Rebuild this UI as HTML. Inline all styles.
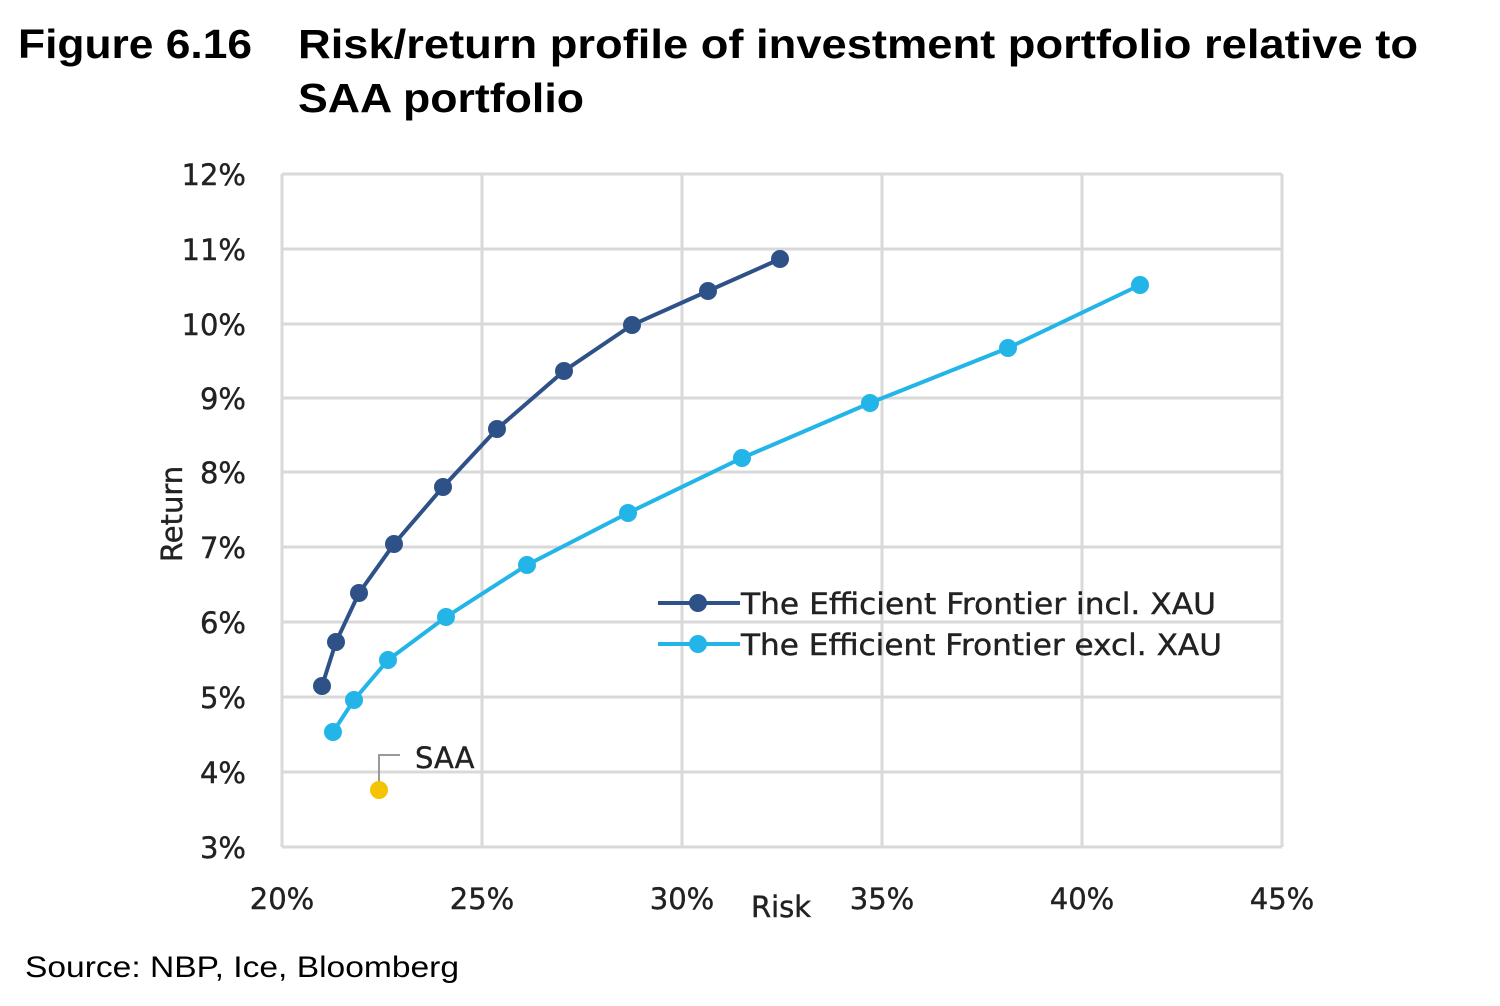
<!DOCTYPE html>
<html><head><meta charset="utf-8"><style>
body{margin:0;background:#fff;width:1500px;height:1001px;overflow:hidden}
</style></head><body>
<svg width="1500" height="1001" xmlns="http://www.w3.org/2000/svg">
<g font-family="Liberation Sans, sans-serif" font-weight="bold" font-size="41" fill="#000">
<text x="18" y="58" textLength="234" lengthAdjust="spacingAndGlyphs">Figure 6.16</text>
<text x="298" y="58" textLength="1120" lengthAdjust="spacingAndGlyphs">Risk/return profile of investment portfolio relative to</text>
<text x="298" y="112" textLength="286" lengthAdjust="spacingAndGlyphs">SAA portfolio</text>
</g>
<text x="25" y="977" font-family="Liberation Sans, sans-serif" font-size="30" fill="#000" textLength="434" lengthAdjust="spacingAndGlyphs">Source: NBP, Ice, Bloomberg</text>
<g stroke="#d9d9d9" stroke-width="3" fill="none">
<line x1="282" y1="174" x2="1282" y2="174"/>
<line x1="282" y1="249" x2="1282" y2="249"/>
<line x1="282" y1="324" x2="1282" y2="324"/>
<line x1="282" y1="398" x2="1282" y2="398"/>
<line x1="282" y1="472" x2="1282" y2="472"/>
<line x1="282" y1="547" x2="1282" y2="547"/>
<line x1="282" y1="622" x2="1282" y2="622"/>
<line x1="282" y1="697" x2="1282" y2="697"/>
<line x1="282" y1="772" x2="1282" y2="772"/>
<line x1="282" y1="847" x2="1282" y2="847"/>
<line x1="282" y1="174" x2="282" y2="847"/>
<line x1="482" y1="174" x2="482" y2="847"/>
<line x1="682" y1="174" x2="682" y2="847"/>
<line x1="882" y1="174" x2="882" y2="847"/>
<line x1="1082" y1="174" x2="1082" y2="847"/>
<line x1="1282" y1="174" x2="1282" y2="847"/>
</g>
<g font-family="DejaVu Sans, sans-serif" font-size="29" fill="#222" stroke="#222" stroke-width="0.4" text-anchor="end">
<text x="246" y="185">12%</text><text x="246" y="260">11%</text><text x="246" y="335">10%</text>
<text x="246" y="409">9%</text><text x="246" y="483">8%</text><text x="246" y="558">7%</text>
<text x="246" y="633">6%</text><text x="246" y="708">5%</text><text x="246" y="783">4%</text>
<text x="246" y="858">3%</text>
</g>
<g font-family="DejaVu Sans, sans-serif" font-size="29" fill="#222" stroke="#222" stroke-width="0.4" text-anchor="middle">
<text x="282" y="909">20%</text><text x="482" y="909">25%</text><text x="682" y="909">30%</text>
<text x="882" y="909">35%</text><text x="1082" y="909">40%</text><text x="1282" y="909">45%</text>
<text x="781" y="917">Risk</text>
<text transform="translate(182,514) rotate(-90)">Return</text>
</g>
<g stroke="#2e5288" stroke-width="4" fill="#2e5288">
<polyline fill="none" points="322,686 336,642 359,593 394,544 443,487 497,429 564,371 632,325 708,291 780,259"/>
<g stroke="none">
<circle cx="322" cy="686" r="9"/><circle cx="336" cy="642" r="9"/><circle cx="359" cy="593" r="9"/><circle cx="394" cy="544" r="9"/><circle cx="443" cy="487" r="9"/><circle cx="497" cy="429" r="9"/><circle cx="564" cy="371" r="9"/><circle cx="632" cy="325" r="9"/><circle cx="708" cy="291" r="9"/><circle cx="780" cy="259" r="9"/>
<circle cx="698" cy="603" r="9"/></g>
<line x1="658" y1="603" x2="740" y2="603"/>
</g>
<g stroke="#23b5e8" stroke-width="4" fill="#23b5e8">
<polyline fill="none" points="333,732 354,700 388,660 446,617 527,565 628,513 742,458 870,403 1008,348 1140,285"/>
<g stroke="none">
<circle cx="333" cy="732" r="9"/><circle cx="354" cy="700" r="9"/><circle cx="388" cy="660" r="9"/><circle cx="446" cy="617" r="9"/><circle cx="527" cy="565" r="9"/><circle cx="628" cy="513" r="9"/><circle cx="742" cy="458" r="9"/><circle cx="870" cy="403" r="9"/><circle cx="1008" cy="348" r="9"/><circle cx="1140" cy="285" r="9"/>
<circle cx="698" cy="644" r="9"/></g>
<line x1="658" y1="644" x2="740" y2="644"/>
</g>
<polyline points="379,788 379,755 400,755" fill="none" stroke="#999" stroke-width="2"/>
<circle cx="379" cy="790" r="9" fill="#f5c400"/>
<g font-family="DejaVu Sans, sans-serif" font-size="29" fill="#222" stroke="#222" stroke-width="0.4">
<text x="415" y="768">SAA</text>
<text x="741" y="614" textLength="475" lengthAdjust="spacingAndGlyphs">The Efficient Frontier incl. XAU</text>
<text x="741" y="655" textLength="481" lengthAdjust="spacingAndGlyphs">The Efficient Frontier excl. XAU</text>
</g>
</svg>
</body></html>
